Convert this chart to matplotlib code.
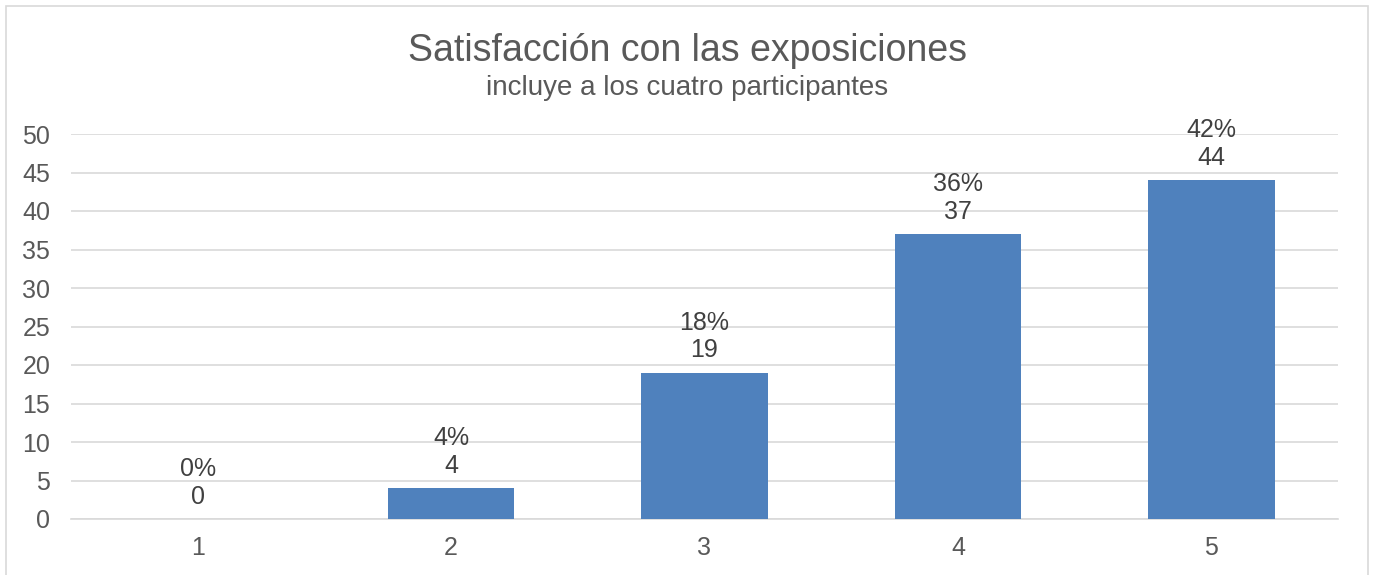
import matplotlib.pyplot as plt
from matplotlib.patches import Rectangle

plt.rcParams['font.family'] = ['Liberation Sans', 'DejaVu Sans']

categories = ['1', '2', '3', '4', '5']
counts = [0, 4, 19, 37, 44]
percents = ['0%', '4%', '18%', '36%', '42%']
yticks = [0, 5, 10, 15, 20, 25, 30, 35, 40, 45, 50]

text_grey = '#595959'
bar_blue = '#4F81BD'
grid_grey = '#D9D9D9'

fig = plt.figure(figsize=(13.75, 5.75), dpi=100)
ax = fig.add_axes([71 / 1375, 1 - 519 / 575, (1338 - 71) / 1375, (519 - 134) / 575])

# chart border
fig.patches.append(Rectangle((6 / 1375, -0.01), (1368 - 6) / 1375, 1 - 6 / 575 + 0.01,
                             transform=fig.transFigure, fill=False,
                             edgecolor=grid_grey, linewidth=1.2))

xs = list(range(1, len(categories) + 1))
ax.bar(xs, counts, width=0.5, color=bar_blue, zorder=3)

# two-line labels: percentage over count
for x, c, p in zip(xs, counts, percents):
    ax.annotate(c, (x, c), xytext=(0, 11), textcoords='offset points',
                ha='center', va='baseline', fontsize=18, color='#404040')
    ax.annotate(p, (x, c), xytext=(0, 31), textcoords='offset points',
                ha='center', va='baseline', fontsize=18, color='#404040')

ax.set_xlim(0.5, 5.5)
ax.set_ylim(0, 50)
ax.set_yticks(yticks)
ax.set_xticks(xs)
ax.set_xticklabels(categories)
ax.yaxis.grid(True, color=grid_grey, linewidth=1.2, zorder=0)
ax.set_axisbelow(True)
for s in ['top', 'right', 'left']:
    ax.spines[s].set_visible(False)
ax.spines['bottom'].set_color(grid_grey)
ax.spines['bottom'].set_linewidth(1.2)
ax.tick_params(axis='both', length=0, labelsize=18, labelcolor=text_grey)
ax.tick_params(axis='y', pad=15)
ax.tick_params(axis='x', pad=12)

fig.text(0.5, 1 - 51 / 575, 'Satisfacción con las exposiciones', ha='center', va='center',
         fontsize=27, color=text_grey)
fig.text(0.5, 1 - 88 / 575, 'incluye a los cuatro participantes', ha='center', va='center',
         fontsize=20, color=text_grey)

fig.savefig('out.png', dpi=100)
